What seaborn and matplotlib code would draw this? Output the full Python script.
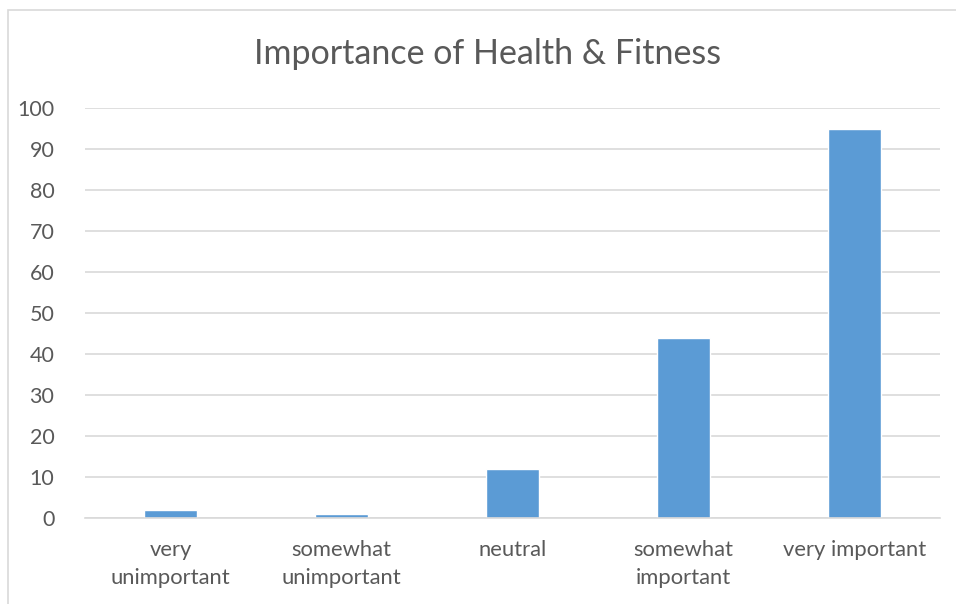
import matplotlib
matplotlib.use('Agg')
import matplotlib.pyplot as plt
import seaborn as sns
import pandas as pd
from matplotlib.patches import Rectangle

# Chart data
categories = ['very\nunimportant', 'somewhat\nunimportant', 'neutral', 'somewhat\nimportant', 'very important']
counts = [2, 1, 12, 44, 95]
y_ticks = [0, 10, 20, 30, 40, 50, 60, 70, 80, 90, 100]

df = pd.DataFrame({'category': categories, 'count': counts})

sns.set_style('white')
plt.rcParams['font.family'] = ['Lato', 'DejaVu Sans']

text_color = '#595959'
bar_color = '#5B9BD5'
grid_color = '#D9D9D9'

fig = plt.figure(figsize=(9.56, 6.04), dpi=100)
# light chart border (cropped on the right and bottom)
fig.patches.append(Rectangle((8 / 956, -0.1), 1.2, 1 - 10 / 604 + 0.1,
                             transform=fig.transFigure, fill=False,
                             edgecolor='#D9D9D9', linewidth=1.2))

ax = fig.add_axes([85 / 956, 1 - 518 / 604, 855 / 956, 410 / 604])
sns.barplot(data=df, x='category', y='count', color=bar_color, saturation=1,
            width=0.31, ax=ax)

ax.set_ylim(0, 100)
ax.set_xlim(-0.5, len(categories) - 0.5)
ax.set_yticks(y_ticks)
ax.yaxis.grid(True, color=grid_color, linewidth=1.2)
ax.set_axisbelow(True)
for side in ['top', 'right', 'left']:
    ax.spines[side].set_visible(False)
ax.spines['bottom'].set_color(grid_color)
ax.spines['bottom'].set_linewidth(1.2)

ax.tick_params(axis='y', length=0, pad=22, labelsize=15.5, labelcolor=text_color)
ax.tick_params(axis='x', length=0, pad=16, labelsize=15.8, labelcolor=text_color)
for lbl in ax.get_xticklabels():
    lbl.set_linespacing(1.5)
ax.set_xlabel('')
ax.set_ylabel('')

fig.text(488 / 956, 1 - 54 / 604, 'Importance of Health & Fitness', ha='center', va='center',
         fontsize=24.5, color=text_color)

plt.savefig('out.png', dpi=100)
